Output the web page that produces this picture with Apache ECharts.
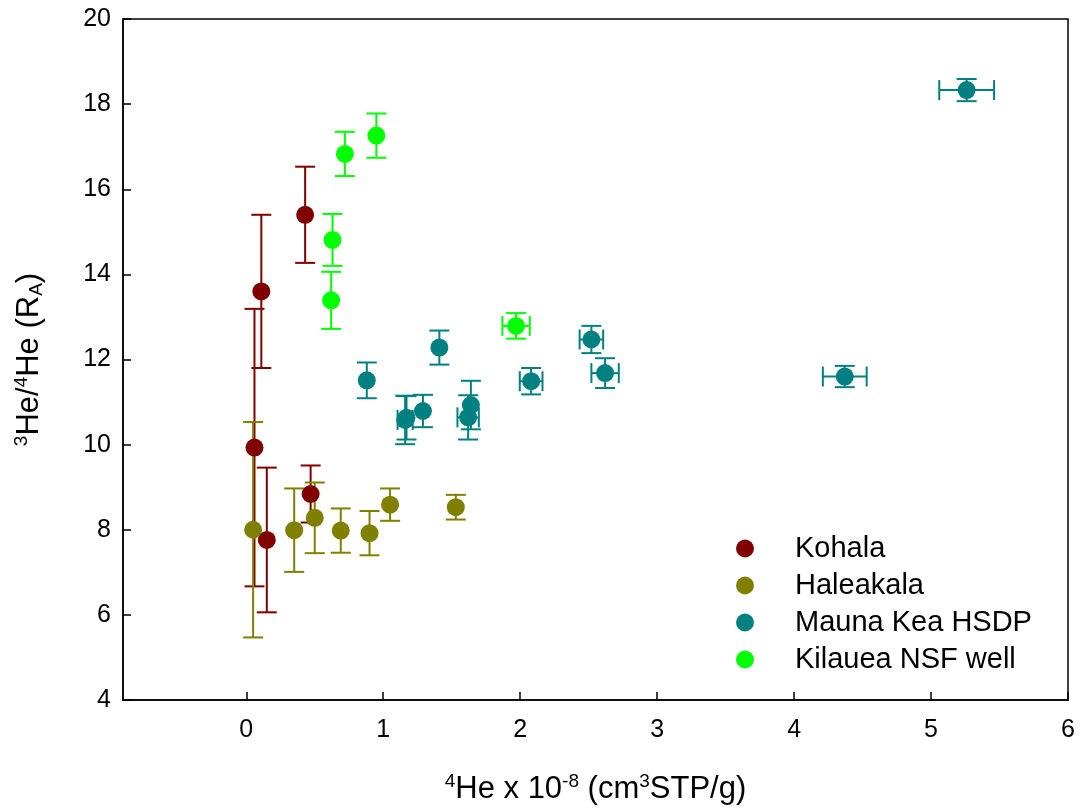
<!DOCTYPE html>
<html>
<head>
<meta charset="utf-8">
<script src="https://cdn.jsdelivr.net/npm/echarts@6/dist/echarts.min.js"></script>
<style>
  html, body { margin: 0; padding: 0; background: #fff; }
  #chart { width: 1080px; height: 810px; }
</style>
</head>
<body>
<div id="chart"></div>
<script>
// rows: [x, y, xErr, yErr]
var kohala = [
  [0.11, 13.6, 0, 1.8],
  [0.43, 15.4, 0, 1.13],
  [0.06, 9.93, 0, 3.26],
  [0.15, 7.76, 0, 1.7],
  [0.47, 8.84, 0, 0.67]
];
var haleakala = [
  [0.05, 8.0, 0, 2.53],
  [0.35, 7.99, 0, 0.98],
  [0.50, 8.28, 0, 0.83],
  [0.69, 7.98, 0, 0.52],
  [0.90, 7.92, 0, 0.52],
  [1.05, 8.59, 0, 0.38],
  [1.53, 8.53, 0, 0.29]
];
var maunaKea = [
  [0.88, 11.51, 0, 0.42],
  [1.41, 12.28, 0, 0.40],
  [1.16, 10.58, 0.055, 0.57],
  [1.17, 10.63, 0, 0.51],
  [1.29, 10.79, 0, 0.38],
  [1.64, 10.93, 0, 0.57],
  [1.62, 10.64, 0.078, 0.52],
  [2.08, 11.49, 0.083, 0.31],
  [2.52, 12.47, 0.086, 0.32],
  [2.62, 11.68, 0.10, 0.35],
  [4.37, 11.60, 0.16, 0.25],
  [5.26, 18.33, 0.20, 0.26]
];
var kilauea = [
  [0.72, 16.83, 0, 0.52],
  [0.95, 17.26, 0, 0.52],
  [0.63, 14.81, 0, 0.61],
  [0.62, 13.39, 0, 0.67],
  [1.97, 12.79, 0.10, 0.30]
];
var xTicks = [0, 1, 2, 3, 4, 5, 6];
var groupNames = ['Kohala', 'Haleakala', 'Mauna Kea HSDP', 'Kilauea NSF well'];
var groupColors = ['#800000', '#808000', '#008080', '#00ff00'];
var groupData = [kohala, haleakala, maunaKea, kilauea];

var chart = echarts.init(document.getElementById('chart'));

//误差线
function errorBar(color) {
  return function(params, api) {
    var x = api.value(0), y = api.value(1), xe = api.value(2), ye = api.value(3);
    var cap = 10;
    var style = { stroke: color, lineWidth: 2 };
    var kids = [];
    if (ye > 0) {
      var t = api.coord([x, y + ye]), b = api.coord([x, y - ye]);
      kids.push({ type: 'line', shape: { x1: t[0], y1: t[1], x2: b[0], y2: b[1] }, style: style });
      kids.push({ type: 'line', shape: { x1: t[0] - cap, y1: t[1], x2: t[0] + cap, y2: t[1] }, style: style });
      kids.push({ type: 'line', shape: { x1: b[0] - cap, y1: b[1], x2: b[0] + cap, y2: b[1] }, style: style });
    }
    if (xe > 0) {
      var l = api.coord([x - xe, y]), r = api.coord([x + xe, y]);
      kids.push({ type: 'line', shape: { x1: l[0], y1: l[1], x2: r[0], y2: r[1] }, style: style });
      kids.push({ type: 'line', shape: { x1: l[0], y1: l[1] - cap, x2: l[0], y2: l[1] + cap }, style: style });
      kids.push({ type: 'line', shape: { x1: r[0], y1: r[1] - cap, x2: r[0], y2: r[1] + cap }, style: style });
    }
    return { type: 'group', children: kids };
  };
}

var series = [];
for (var i = 0; i < groupData.length; i++) {
  series.push({
    name: groupNames[i] + ' err',
    type: 'custom',
    renderItem: errorBar(groupColors[i]),
    data: groupData[i],
    encode: { x: 0, y: 1 },
    silent: true,
    z: 2
  });
}
for (var j = 0; j < groupData.length; j++) {
  series.push({
    name: groupNames[j],
    type: 'scatter',
    symbol: 'circle',
    symbolSize: 18,
    itemStyle: { color: groupColors[j], opacity: 1 },
    data: groupData[j].map(function(r) { return [r[0], r[1]]; }),
    z: 3
  });
}

var option = {
  animation: false,
  backgroundColor: '#fff',
  grid: {
    left: 123, top: 19, right: 12, bottom: 110,
    show: true, borderColor: '#000', borderWidth: 1.5, backgroundColor: 'transparent'
  },
  legend: {
    data: groupNames,
    orient: 'vertical',
    left: 736, top: 534,
    padding: 0,
    icon: 'circle',
    itemWidth: 18, itemHeight: 18,
    itemGap: 8,
    textStyle: { fontFamily: 'Liberation Sans, Arial', fontSize: 29, color: '#000', padding: [0, 0, 0, 36] }
  },
  xAxis: {
    type: 'value',
    min: -0.9, max: 6,
    splitLine: { show: false },
    axisLine: { onZero: false, lineStyle: { color: '#000', width: 1.5 } },
    axisTick: { inside: true, length: 8, lineStyle: { color: '#000', width: 1.5 }, customValues: xTicks },
    axisLabel: {
      margin: 18, fontSize: 25, color: '#000', fontFamily: 'Liberation Sans Narrow, Arial Narrow, Liberation Sans',
      customValues: xTicks
    },
    name: '{sup|4}He x 10{sup|-8} (cm{sup|3}STP/g)',
    nameLocation: 'middle',
    nameGap: 72,
    nameTextStyle: {
      fontFamily: 'Liberation Sans Narrow, Arial Narrow, Liberation Sans', fontSize: 31, color: '#000',
      rich: {
        sup: { fontFamily: 'Liberation Sans Narrow, Liberation Sans', fontSize: 19, color: '#000', padding: [0, 0, 15, 0] }
      }
    }
  },
  yAxis: {
    type: 'value',
    min: 4, max: 20, interval: 2,
    splitLine: { show: false },
    axisLine: { onZero: false, lineStyle: { color: '#000', width: 1.5 } },
    axisTick: { inside: true, length: 8, lineStyle: { color: '#000', width: 1.5 } },
    axisLabel: { margin: 12, fontSize: 25, color: '#000', fontFamily: 'Liberation Sans, Arial' },
    name: '{sup|3}He/{sup|4}He (R{sub|A})',
    nameLocation: 'middle',
    nameGap: 77,
    nameRotate: 90,
    nameTextStyle: {
      fontFamily: 'Liberation Sans, Arial', fontSize: 31, color: '#000',
      rich: {
        sup: { fontFamily: 'Liberation Sans, Arial', fontSize: 19, color: '#000', padding: [0, 0, 15, 0] },
        sub: { fontFamily: 'Liberation Sans, Arial', fontSize: 19, color: '#000', padding: [15, 0, 0, 0] }
      }
    }
  },
  series: series
};
chart.setOption(option);
</script>
</body>
</html>
